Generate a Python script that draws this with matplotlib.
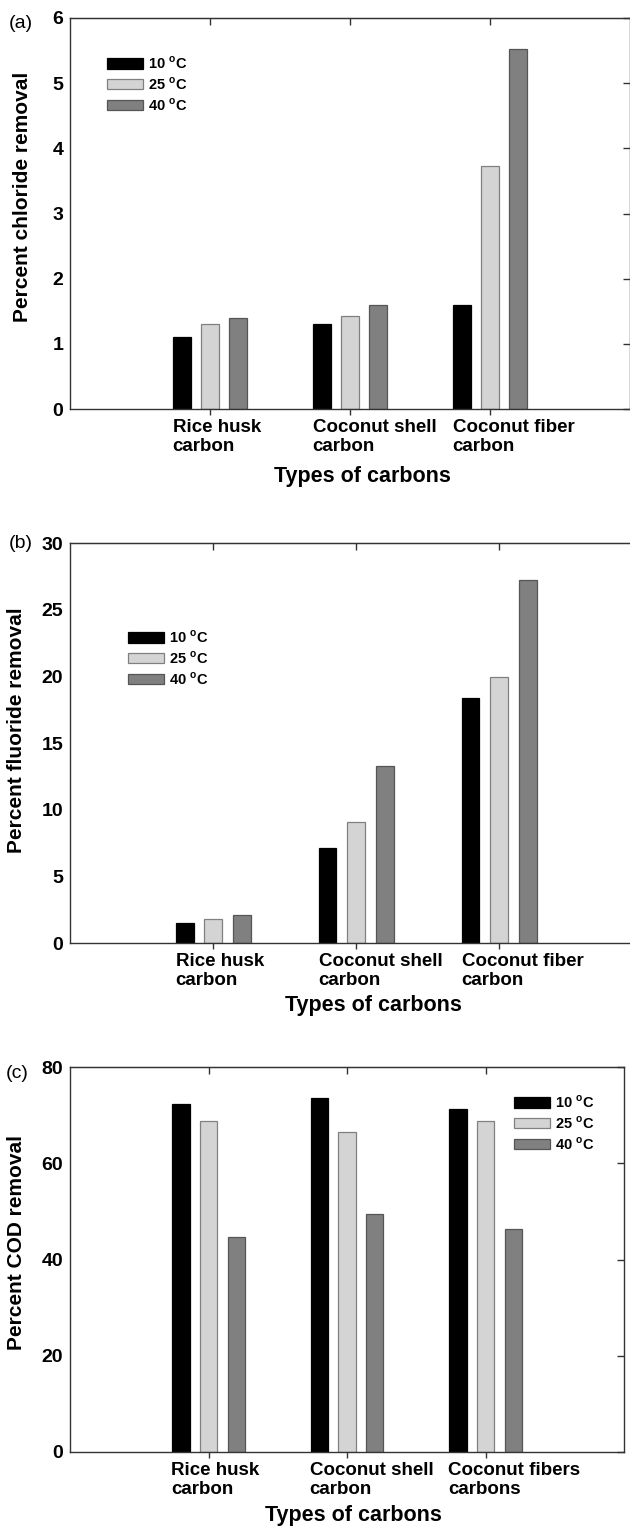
import matplotlib
matplotlib.use("Agg")
import matplotlib.pyplot as plt
import matplotlib.transforms as mtransforms
import numpy as np

plt.rcParams["font.family"] = ["Liberation Sans", "DejaVu Sans"]
plt.rcParams["mathtext.fontset"] = "custom"
plt.rcParams["mathtext.rm"] = "Liberation Sans:bold"
plt.rcParams["mathtext.bf"] = "Liberation Sans:bold"

# data
carbons_ab = ["Rice husk\ncarbon", "Coconut shell\ncarbon", "Coconut fiber\ncarbon"]
carbons_c = ["Rice husk\ncarbon", "Coconut shell\ncarbon", "Coconut fibers\ncarbons"]
temps = ["10", "25", "40"]

chloride_10 = [1.10, 1.30, 1.59]
chloride_25 = [1.30, 1.42, 3.73]
chloride_40 = [1.40, 1.59, 5.53]

fluoride_10 = [1.5, 7.1, 18.4]
fluoride_25 = [1.8, 9.1, 19.95]
fluoride_40 = [2.1, 13.25, 27.25]

cod_10 = [72.4, 73.5, 71.2]
cod_25 = [68.7, 66.4, 68.7]
cod_40 = [44.6, 49.4, 46.4]

W, H = 630, 1526
fig = plt.figure(figsize=(W / 100, H / 100), dpi=100)

fills = ["#000000", "#d4d4d4", "#808080"]
edges = ["#000000", "#808080", "#555555"]
spine_col = "#333333"


def make_panel(box, series, cats, ymax, ystep, ylabel, letter, leg_xy, ylab_xy, xlab_xy, letter_xy):
    left, top, right, bottom = box
    ax = fig.add_axes([left / W, 1 - bottom / H, (right - left) / W, (bottom - top) / H])
    x = np.arange(1, 4)
    offs = [-0.2, 0.0, 0.2]
    for vals, t, fc, ec, o in zip(series, temps, fills, edges, offs):
        ax.bar(x + o, vals, width=0.125, color=fc, edgecolor=ec, linewidth=0.9,
               label="%s $^{\\mathrm{o}}$C" % t)
    ax.set_xlim(0, 4)
    ax.set_ylim(0, ymax)
    ax.tick_params(axis="x", direction="out", length=4, width=1, pad=3, color=spine_col)
    ax.tick_params(axis="y", left=False, right=True, direction="in", length=5, width=1,
                   pad=5, color=spine_col)
    ax.set_yticks(np.arange(0, ymax + 0.1, ystep))
    ax.set_yticklabels([str(int(v)) for v in np.arange(0, ymax + 0.1, ystep)],
                       fontsize=14, fontweight="bold")
    ax.set_xticks(x)
    ax.set_xticklabels(cats, fontsize=13.5, fontweight="bold", ha="left", linespacing=1.15)
    # labels start a bit left of the tick, lines left aligned
    shift = mtransforms.ScaledTranslation(-0.375, 0, fig.dpi_scale_trans)
    for lbl in ax.get_xticklabels():
        lbl.set_transform(lbl.get_transform() + shift)
    top_ax = ax.secondary_xaxis("top")
    top_ax.set_xticks(x)
    top_ax.tick_params(direction="in", length=5, width=1, labeltop=False, color=spine_col)
    top_ax.spines["top"].set_color(spine_col)
    for s in ax.spines.values():
        s.set_color(spine_col)
        s.set_linewidth(1.0)

    ax.set_ylabel(ylabel, fontsize=15, fontweight="bold", va="center")
    ax.yaxis.set_label_coords(ylab_xy[0] / W, 1 - ylab_xy[1] / H, transform=fig.transFigure)
    ax.set_xlabel("Types of carbons", fontsize=15.5, fontweight="bold", va="center")
    ax.xaxis.set_label_coords(xlab_xy[0] / W, 1 - xlab_xy[1] / H, transform=fig.transFigure)

    fig.text(letter_xy[0] / W, 1 - letter_xy[1] / H, letter, fontsize=14,
             ha="center", va="center")

    ax.legend(loc="upper left", bbox_to_anchor=(leg_xy[0] / W, 1 - leg_xy[1] / H),
              bbox_transform=fig.transFigure, frameon=False, borderpad=0,
              borderaxespad=0, handlelength=2.45, handleheight=0.7,
              handletextpad=0.35, labelspacing=0.28,
              prop={"size": 10.5, "weight": "bold"})
    return ax


make_panel((70.3, 18, 630, 409),
           [chloride_10, chloride_25, chloride_40], carbons_ab, 6, 1,
           "Percent chloride removal", "(a)",
           (107, 55), (23, 197), (362, 477), (21, 24))

make_panel((70.3, 543, 642, 943),
           [fluoride_10, fluoride_25, fluoride_40], carbons_ab, 30, 5,
           "Percent fluoride removal", "(b)",
           (128, 629), (17, 730), (373, 1005), (21, 543))

make_panel((70.3, 1067, 624, 1452),
           [cod_10, cod_25, cod_40], carbons_c, 80, 20,
           "Percent COD removal", "(c)",
           (514, 1094), (17, 1243), (353, 1515), (17, 1073))

fig.savefig("out.png", dpi=100)
